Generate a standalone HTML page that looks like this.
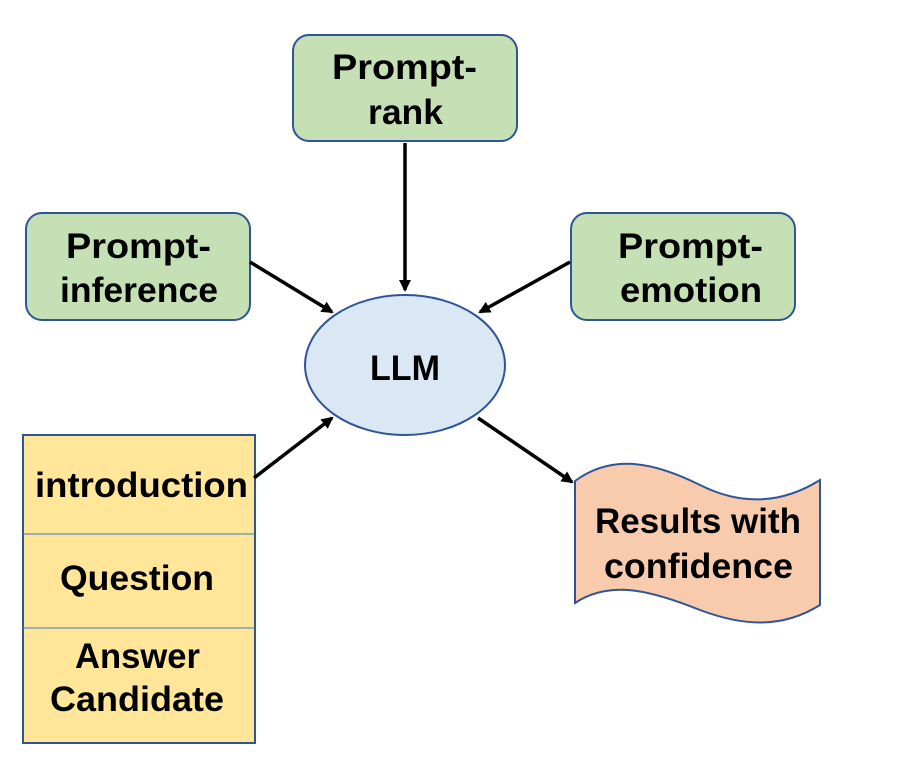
<!DOCTYPE html>
<html><head><style>body{margin:0;background:#fff}svg{display:block}</style></head><body>
<svg width="897" height="758" viewBox="0 0 897 758" xmlns="http://www.w3.org/2000/svg" font-family="Liberation Sans, sans-serif" font-weight="bold" font-size="35" fill="#000">
<defs><marker id="a" markerWidth="12" markerHeight="12" refX="10" refY="6" orient="auto" markerUnits="userSpaceOnUse"><path d="M0,0 L12,6 L0,12 Z" fill="#000"/></marker></defs>
<g stroke="#2F5597" stroke-width="2">
<rect x="293" y="35" width="224" height="106" rx="16" fill="#C5E0B4"/>
<rect x="26" y="213" width="224" height="107" rx="16" fill="#C5E0B4"/>
<rect x="571" y="213" width="224" height="107" rx="16" fill="#C5E0B4"/>
<ellipse cx="405" cy="365" rx="100" ry="70" fill="#DAE7F4"/>
<rect x="23" y="435" width="232" height="308" fill="#FFE699"/>
<path d="M575,481 C610,455 650,460 700,485 C740,505 780,505 820,480 L820,605 C780,630 740,625 700,610 C650,590 610,580 575,603 Z" fill="#F8CBAD"/>
</g>
<g stroke="#4472C4" stroke-width="1"><line x1="23" y1="534" x2="255" y2="534"/><line x1="23" y1="628" x2="255" y2="628"/></g>
<g stroke="#000" stroke-width="3.5" marker-end="url(#a)">
<line x1="405" y1="143" x2="405" y2="290"/>
<line x1="250" y1="262" x2="332" y2="312"/>
<line x1="570" y1="262" x2="480" y2="312"/>
<line x1="254" y1="478" x2="332" y2="418"/>
<line x1="478" y1="418" x2="572" y2="482"/>
</g>
<g lengthAdjust="spacingAndGlyphs">
<text x="332" y="79" textLength="145" lengthAdjust="spacingAndGlyphs">Prompt-</text>
<text x="368" y="124" textLength="75" lengthAdjust="spacingAndGlyphs">rank</text>
<text x="66" y="258" textLength="145" lengthAdjust="spacingAndGlyphs">Prompt-</text>
<text x="60" y="302" textLength="158" lengthAdjust="spacingAndGlyphs">inference</text>
<text x="618" y="258" textLength="145" lengthAdjust="spacingAndGlyphs">Prompt-</text>
<text x="620" y="302" textLength="142" lengthAdjust="spacingAndGlyphs">emotion</text>
<text x="370" y="380" textLength="70" lengthAdjust="spacingAndGlyphs">LLM</text>
<text x="595" y="533" textLength="206" lengthAdjust="spacingAndGlyphs">Results with</text>
<text x="604" y="578" textLength="189" lengthAdjust="spacingAndGlyphs">confidence</text>
<text x="35" y="497" textLength="213" lengthAdjust="spacingAndGlyphs">introduction</text>
<text x="60" y="590" textLength="154" lengthAdjust="spacingAndGlyphs">Question</text>
<text x="75" y="668" textLength="125" lengthAdjust="spacingAndGlyphs">Answer</text>
<text x="50" y="711" textLength="174" lengthAdjust="spacingAndGlyphs">Candidate</text>
</g>
</svg>
</body></html>
